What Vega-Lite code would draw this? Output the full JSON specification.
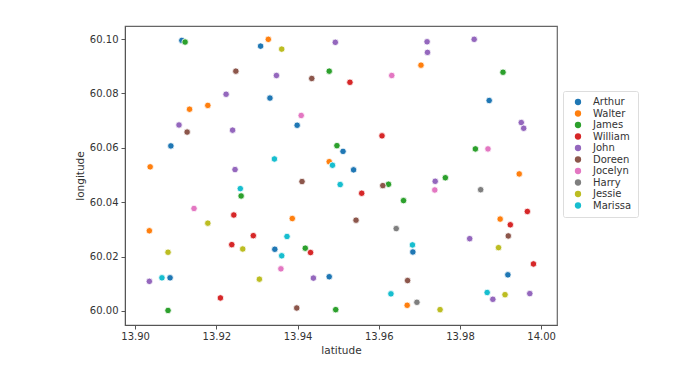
{
  "$schema": "https://vega.github.io/schema/vega-lite/v6.json",
  "width": 432,
  "height": 299,
  "autosize": {"type": "none"},
  "padding": {"left": 125, "top": 26, "right": 139, "bottom": 53},
  "background": "white",
  "config": {
    "font": "DejaVu Sans",
    "view": {"stroke": "#666", "strokeWidth": 1.2},
    "axis": {
      "grid": false,
      "domainColor": "#555",
      "tickColor": "#555",
      "tickSize": 4,
      "labelFontSize": 10,
      "labelColor": "#333",
      "titleFontSize": 10.5,
      "titleFontWeight": "normal",
      "titleColor": "#333",
      "labelFont": "DejaVu Sans",
      "titleFont": "DejaVu Sans"
    }
  },
  "data": {
    "values": [
      {"name": "Arthur", "latitude": 13.9115, "longitude": 60.0995},
      {"name": "Arthur", "latitude": 13.9309, "longitude": 60.0974},
      {"name": "Arthur", "latitude": 13.9332, "longitude": 60.0783},
      {"name": "Arthur", "latitude": 13.9399, "longitude": 60.0683},
      {"name": "Arthur", "latitude": 13.9088, "longitude": 60.0607},
      {"name": "Arthur", "latitude": 13.9512, "longitude": 60.0587},
      {"name": "Arthur", "latitude": 13.9538, "longitude": 60.0519},
      {"name": "Arthur", "latitude": 13.9872, "longitude": 60.0774},
      {"name": "Arthur", "latitude": 13.9344, "longitude": 60.0227},
      {"name": "Arthur", "latitude": 13.9684, "longitude": 60.0217},
      {"name": "Arthur", "latitude": 13.9086, "longitude": 60.0122},
      {"name": "Arthur", "latitude": 13.9478, "longitude": 60.0126},
      {"name": "Arthur", "latitude": 13.9918, "longitude": 60.0133},
      {"name": "Walter", "latitude": 13.9328, "longitude": 60.0999},
      {"name": "Walter", "latitude": 13.9704, "longitude": 60.0904},
      {"name": "Walter", "latitude": 13.9134, "longitude": 60.0742},
      {"name": "Walter", "latitude": 13.9179, "longitude": 60.0756},
      {"name": "Walter", "latitude": 13.9037, "longitude": 60.053},
      {"name": "Walter", "latitude": 13.9478, "longitude": 60.0549},
      {"name": "Walter", "latitude": 13.9946, "longitude": 60.0504},
      {"name": "Walter", "latitude": 13.9035, "longitude": 60.0295},
      {"name": "Walter", "latitude": 13.9387, "longitude": 60.034},
      {"name": "Walter", "latitude": 13.9899, "longitude": 60.0338},
      {"name": "Walter", "latitude": 13.967, "longitude": 60.0021},
      {"name": "James", "latitude": 13.9123, "longitude": 60.0989},
      {"name": "James", "latitude": 13.9478, "longitude": 60.0882},
      {"name": "James", "latitude": 13.9906, "longitude": 60.0878},
      {"name": "James", "latitude": 13.9497, "longitude": 60.0608},
      {"name": "James", "latitude": 13.9838, "longitude": 60.0596},
      {"name": "James", "latitude": 13.9764, "longitude": 60.049},
      {"name": "James", "latitude": 13.9624, "longitude": 60.0466},
      {"name": "James", "latitude": 13.9661, "longitude": 60.0406},
      {"name": "James", "latitude": 13.9261, "longitude": 60.0423},
      {"name": "James", "latitude": 13.9419, "longitude": 60.0231},
      {"name": "James", "latitude": 13.9081, "longitude": 60.0002},
      {"name": "James", "latitude": 13.9494, "longitude": 60.0005},
      {"name": "William", "latitude": 13.9529, "longitude": 60.0841},
      {"name": "William", "latitude": 13.9608, "longitude": 60.0644},
      {"name": "William", "latitude": 13.9558, "longitude": 60.0433},
      {"name": "William", "latitude": 13.9243, "longitude": 60.0353},
      {"name": "William", "latitude": 13.9291, "longitude": 60.0277},
      {"name": "William", "latitude": 13.9238, "longitude": 60.0244},
      {"name": "William", "latitude": 13.9432, "longitude": 60.0215},
      {"name": "William", "latitude": 13.921, "longitude": 60.0048},
      {"name": "William", "latitude": 13.9966, "longitude": 60.0366},
      {"name": "William", "latitude": 13.9924, "longitude": 60.0317},
      {"name": "William", "latitude": 13.9981, "longitude": 60.0173},
      {"name": "John", "latitude": 13.9493, "longitude": 60.0988},
      {"name": "John", "latitude": 13.9719, "longitude": 60.099},
      {"name": "John", "latitude": 13.972, "longitude": 60.0951},
      {"name": "John", "latitude": 13.9835, "longitude": 60.0999},
      {"name": "John", "latitude": 13.9348, "longitude": 60.0866},
      {"name": "John", "latitude": 13.9224, "longitude": 60.0797},
      {"name": "John", "latitude": 13.9108, "longitude": 60.0684},
      {"name": "John", "latitude": 13.924, "longitude": 60.0665},
      {"name": "John", "latitude": 13.9246, "longitude": 60.052},
      {"name": "John", "latitude": 13.9739, "longitude": 60.0477},
      {"name": "John", "latitude": 13.9951, "longitude": 60.0693},
      {"name": "John", "latitude": 13.9957, "longitude": 60.0672},
      {"name": "John", "latitude": 13.9824, "longitude": 60.0266},
      {"name": "John", "latitude": 13.9881, "longitude": 60.0043},
      {"name": "John", "latitude": 13.9972, "longitude": 60.0064},
      {"name": "John", "latitude": 13.9439, "longitude": 60.0121},
      {"name": "John", "latitude": 13.9035, "longitude": 60.0109},
      {"name": "Doreen", "latitude": 13.9248, "longitude": 60.0882},
      {"name": "Doreen", "latitude": 13.9435, "longitude": 60.0855},
      {"name": "Doreen", "latitude": 13.9128, "longitude": 60.0658},
      {"name": "Doreen", "latitude": 13.9411, "longitude": 60.0476},
      {"name": "Doreen", "latitude": 13.961, "longitude": 60.0461},
      {"name": "Doreen", "latitude": 13.9544, "longitude": 60.0334},
      {"name": "Doreen", "latitude": 13.9919, "longitude": 60.0276},
      {"name": "Doreen", "latitude": 13.9671, "longitude": 60.0112},
      {"name": "Doreen", "latitude": 13.9398, "longitude": 60.0011},
      {"name": "Jocelyn", "latitude": 13.9632, "longitude": 60.0866},
      {"name": "Jocelyn", "latitude": 13.9409, "longitude": 60.0719},
      {"name": "Jocelyn", "latitude": 13.9869, "longitude": 60.0596},
      {"name": "Jocelyn", "latitude": 13.9738, "longitude": 60.0445},
      {"name": "Jocelyn", "latitude": 13.9145, "longitude": 60.0377},
      {"name": "Jocelyn", "latitude": 13.9359, "longitude": 60.0155},
      {"name": "Harry", "latitude": 13.9851, "longitude": 60.0446},
      {"name": "Harry", "latitude": 13.9643, "longitude": 60.0303},
      {"name": "Harry", "latitude": 13.9694, "longitude": 60.0032},
      {"name": "Jessie", "latitude": 13.9361, "longitude": 60.0963},
      {"name": "Jessie", "latitude": 13.9179, "longitude": 60.0323},
      {"name": "Jessie", "latitude": 13.9265, "longitude": 60.0228},
      {"name": "Jessie", "latitude": 13.9081, "longitude": 60.0216},
      {"name": "Jessie", "latitude": 13.9306, "longitude": 60.0117},
      {"name": "Jessie", "latitude": 13.9751, "longitude": 60.0005},
      {"name": "Jessie", "latitude": 13.9895, "longitude": 60.0233},
      {"name": "Jessie", "latitude": 13.9911, "longitude": 60.006},
      {"name": "Marissa", "latitude": 13.9343, "longitude": 60.0559},
      {"name": "Marissa", "latitude": 13.9486, "longitude": 60.0536},
      {"name": "Marissa", "latitude": 13.9505, "longitude": 60.0465},
      {"name": "Marissa", "latitude": 13.9259, "longitude": 60.045},
      {"name": "Marissa", "latitude": 13.9374, "longitude": 60.0274},
      {"name": "Marissa", "latitude": 13.9361, "longitude": 60.0203},
      {"name": "Marissa", "latitude": 13.9066, "longitude": 60.0122},
      {"name": "Marissa", "latitude": 13.9683, "longitude": 60.0243},
      {"name": "Marissa", "latitude": 13.963, "longitude": 60.0063},
      {"name": "Marissa", "latitude": 13.9867, "longitude": 60.0068}
    ]
  },
  "mark": {"type": "point", "filled": true, "shape": "circle", "size": 42, "opacity": 1, "stroke": "white", "strokeWidth": 0.8},
  "encoding": {
    "x": {
      "field": "latitude",
      "type": "quantitative",
      "title": "latitude",
      "scale": {"domain": [13.8975, 14.0039], "nice": false, "zero": false},
      "axis": {"values": [13.9, 13.92, 13.94, 13.96, 13.98, 14.0], "format": ".2f", "labelPadding": 2, "titlePadding": 4}
    },
    "y": {
      "field": "longitude",
      "type": "quantitative",
      "title": "longitude",
      "scale": {"domain": [59.99485, 60.1048], "nice": false, "zero": false},
      "axis": {"values": [60.0, 60.02, 60.04, 60.06, 60.08, 60.1], "format": ".2f", "labelPadding": 3, "titlePadding": 4}
    },
    "color": {
      "field": "name",
      "type": "nominal",
      "title": null,
      "scale": {
        "domain": ["Arthur", "Walter", "James", "William", "John", "Doreen", "Jocelyn", "Harry", "Jessie", "Marissa"],
        "range": ["#1f77b4", "#ff7f0e", "#2ca02c", "#d62728", "#9467bd", "#8c564b", "#e377c2", "#7f7f7f", "#bcbd22", "#17becf"]
      },
      "legend": {
        "orient": "none",
        "legendX": 438,
        "legendY": 65,
        "strokeColor": "#ddd",
        "fillColor": "white",
        "padding": 6,
        "cornerRadius": 2,
        "symbolType": "circle",
        "symbolSize": 40,
        "symbolStrokeWidth": 0,
        "symbolOpacity": 1,
        "labelFontSize": 10,
        "labelColor": "#333",
        "labelOffset": 10,
        "rowPadding": 1.5,
        "symbolOffset": 4
      }
    }
  }
}
